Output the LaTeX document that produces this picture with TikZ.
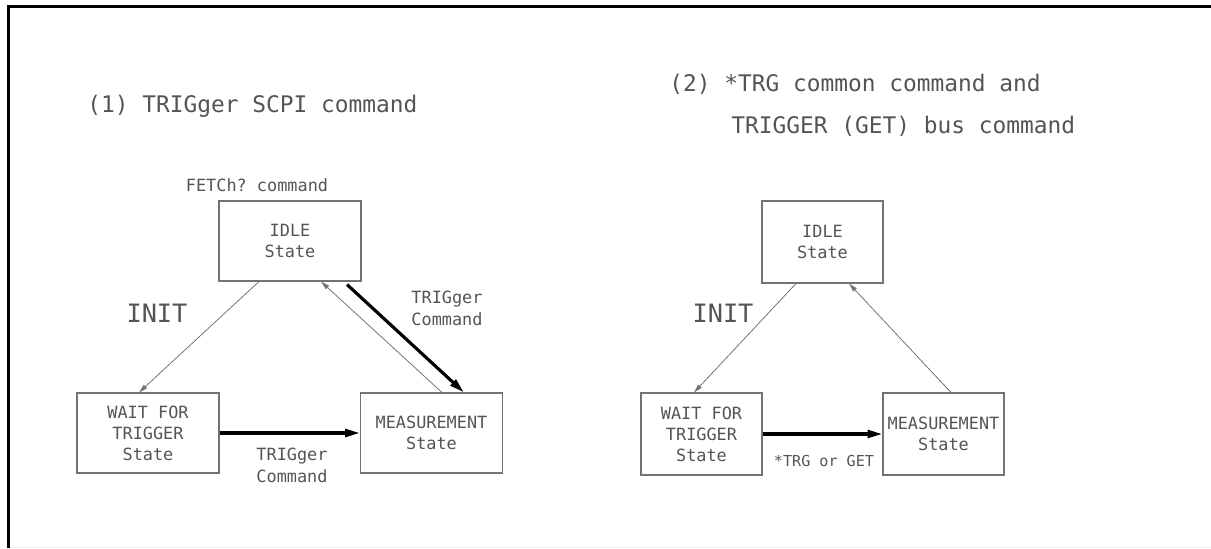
\documentclass[tikz,border=0pt]{standalone}
\usepackage{fontspec}
\setmonofont{DejaVu Sans Mono}
\usepackage{tikz}
\usetikzlibrary{arrows.meta,positioning,calc}
\usepackage{xcolor}
\definecolor{plotgrey}{gray}{0.33}
\definecolor{boxgrey}{gray}{0.45}

\begin{document}
\begin{tikzpicture}[x=0.02cm, y=-0.02cm,
    statebox/.style={rectangle, draw=boxgrey, line width=0.6pt, inner sep=0pt,
        minimum width=2.84cm, minimum height=1.6cm, align=center, text=plotgrey,
        font=\ttfamily\fontsize{9.6}{12}\selectfont},
    narrowbox/.style={statebox, minimum width=2.42cm, minimum height=1.64cm},
    lbl/.style={font=\ttfamily\fontsize{9.6}{12.5}\selectfont, text=plotgrey, align=left, inner sep=0pt},
    ttl/.style={font=\ttfamily\fontsize{13}{16}\selectfont, text=plotgrey, anchor=west, inner sep=0pt},
    initlbl/.style={font=\ttfamily\fontsize{14.4}{17}\selectfont, text=plotgrey, inner sep=0pt},
    thinarr/.style={-{Triangle[length=5pt, width=2.6pt]}, line width=0.45pt, boxgrey},
    thickarr/.style={-{Triangle[length=8.5pt, width=4.4pt]}, line width=1.8pt, black}
]
    \useasboundingbox (0,0) rectangle (1211,548);
    % frame
    \draw[line width=1.7pt] (8.5,548) -- (8.5,6.5) -- (1211,6.5);
    \draw[gray!12] (10,547.5) -- (1211,547.5);

    % (1) TRIGger SCPI command
    \node[ttl] (title1) at (87,106) {(1) TRIGger SCPI command};
    \node[lbl] (fetch) at (257,185) {FETCh? command};
    \node[statebox] (idle1) at (290,241) {IDLE\\State};
    \node[statebox] (wait1) at (148,433) {WAIT FOR\\TRIGGER\\State};
    \node[statebox] (meas1) at (431.5,433) {MEASUREMENT\\State};

    \draw[thinarr] ($(idle1.south)+(-31,0)$) -- ($(wait1.north)+(-9,0)$);
    \draw[thinarr] ($(meas1.north)+(10.5,0)$) -- ($(idle1.south)+(31,0)$);
    \draw[thickarr] ($(idle1.south)+(57,3)$) -- ($(meas1.north)+(32.5,0)$);
    \draw[thickarr] (wait1.east) -- (meas1.west);

    \node[initlbl] (init1) at (157,313) {INIT};
    \node[lbl] (trig1) at (447,308) {TRIGger\\Command};
    \node[lbl] (trig2) at (292,465) {TRIGger\\Command};

    % (2) *TRG common command and TRIGGER (GET) bus command
    \node[ttl] (title2a) at (669,84) {(2) *TRG common command and};
    \node[ttl] (title2b) at (731,126) {TRIGGER (GET) bus command};
    \node[narrowbox] (idle2) at (822.5,242) {IDLE\\State};
    \node[narrowbox] (wait2) at (701.5,434) {WAIT FOR\\TRIGGER\\State};
    \node[narrowbox] (meas2) at (943.5,434) {MEASUREMENT\\State};

    \draw[thinarr] ($(idle2.south)+(-26.5,0)$) -- ($(wait2.north)+(-7.5,0)$);
    \draw[thinarr] ($(meas2.north)+(7.5,0)$) -- ($(idle2.south)+(26.5,0)$);
    \draw[thickarr] (wait2.east) -- (meas2.west);

    \node[initlbl] (init2) at (723,313) {INIT};
    \node[lbl, font=\ttfamily\fontsize{8.6}{11}\selectfont] (trg) at (824,461) {*TRG or GET};
\end{tikzpicture}
\end{document}
